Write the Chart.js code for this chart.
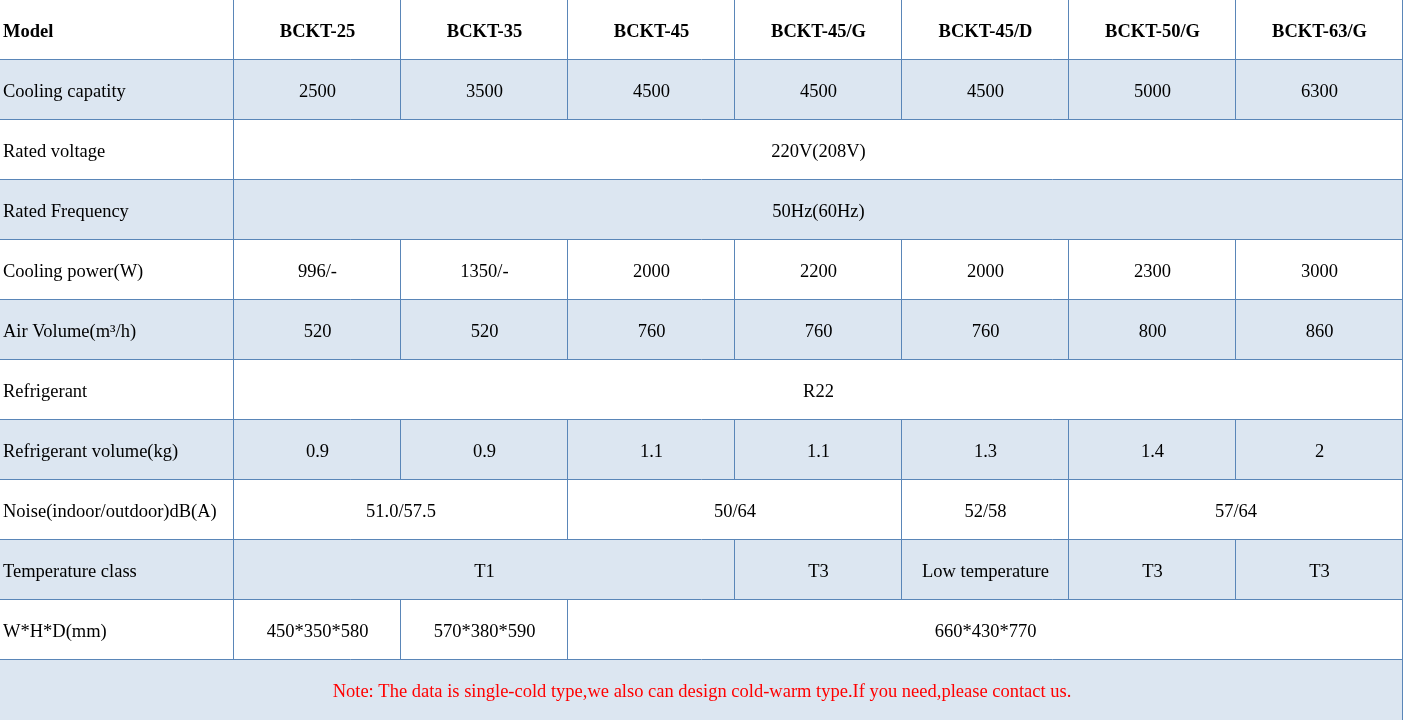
<!DOCTYPE html>
<html>
<head>
<meta charset="utf-8">
<script src="https://cdn.jsdelivr.net/npm/chart.js@4/dist/chart.umd.min.js"></script>
<style>
  html, body { margin: 0; padding: 0; background: #fff; }
  canvas { display: block; }
</style>
</head>
<body>
<canvas id="specTable" width="1403" height="721"></canvas>
<script>
// column edges in table units (first column is wider)
var colEdges = [0, 1.4, 2.4, 3.4, 4.4, 5.4, 6.4, 7.4, 8.4];

var rowLabels = ["Model", "Cooling capatity", "Rated voltage", "Rated Frequency", "Cooling power(W)",
  "Air Volume(m³/h)", "Refrigerant", "Refrigerant volume(kg)", "Noise(indoor/outdoor)dB(A)",
  "Temperature class", "W*H*D(mm)"];

var models = ["BCKT-25", "BCKT-35", "BCKT-45", "BCKT-45/G", "BCKT-45/D", "BCKT-50/G", "BCKT-63/G"];
var coolingCapacity = ["2500", "3500", "4500", "4500", "4500", "5000", "6300"];
var ratedVoltage = [["220V(208V)", 7]];
var ratedFrequency = [["50Hz(60Hz)", 7]];
var coolingPower = ["996/-", "1350/-", "2000", "2200", "2000", "2300", "3000"];
var airVolume = ["520", "520", "760", "760", "760", "800", "860"];
var refrigerant = [["R22", 7]];
var refrigerantVolume = ["0.9", "0.9", "1.1", "1.1", "1.3", "1.4", "2"];
var noise = [["51.0/57.5", 2], ["50/64", 2], ["52/58", 1], ["57/64", 2]];
var temperatureClass = [["T1", 3], ["T3", 1], ["Low temperature", 1], ["T3", 1], ["T3", 1]];
var dimensions = [["450*350*580", 1], ["570*380*590", 1], ["660*430*770", 5]];
var note = "Note: The data is single-cold type,we also can design cold-warm type.If you need,please contact us.";

function single(list) { return list.map(function (v) { return [v, 1]; }); }

var rowCells = [single(models), single(coolingCapacity), ratedVoltage, ratedFrequency, single(coolingPower),
  single(airVolume), refrigerant, single(refrigerantVolume), noise, temperatureClass, dimensions];

var tablePlugin = {
  id: "tablePlugin",
  afterDraw: function (chart) {
    var ctx = chart.ctx, xs = chart.scales.x, ys = chart.scales.y;
    var px = function (v) { return Math.round(xs.getPixelForValue(v)); };
    var py = function (v) { return Math.round(ys.getPixelForValue(v)); };
    var line = "#5a86b8";
    ctx.save();
    ctx.textBaseline = "middle";
    var nRows = rowLabels.length + 1;
    for (var r = 0; r < nRows; r++) {
      var top = py(r), bot = py(r + 1);
      if (r % 2 === 1) { ctx.fillStyle = "#dce6f1"; ctx.fillRect(0, top, px(8.4), bot - top); }
      var mid = (top + bot) / 2 + 2;
      if (r === rowLabels.length) {
        ctx.fillStyle = "#ff0000";
        ctx.font = "18.5px 'Liberation Serif'";
        ctx.textAlign = "center";
        ctx.fillText(note, px(4.2), mid);
        continue;
      }
      var bold = r === 0;
      ctx.font = (bold ? "bold " : "") + "18.5px 'Liberation Serif'";
      ctx.fillStyle = "#000";
      ctx.textAlign = "left";
      ctx.fillText(rowLabels[r], 3, mid);
      ctx.textAlign = "center";
      var c = 1;
      rowCells[r].forEach(function (cell) {
        var x0 = px(colEdges[c]), x1 = px(colEdges[c + cell[1]]);
        ctx.fillText(cell[0], (x0 + x1) / 2, mid);
        ctx.strokeStyle = line; ctx.lineWidth = 1;
        ctx.beginPath(); ctx.moveTo(x0 - 0.5, top); ctx.lineTo(x0 - 0.5, bot); ctx.stroke();
        c += cell[1];
      });
      ctx.strokeStyle = line;
      ctx.beginPath(); ctx.moveTo(0, bot - 0.5); ctx.lineTo(px(8.4), bot - 0.5); ctx.stroke();
    }
    ctx.beginPath(); ctx.moveTo(px(8.4) - 0.5, 0); ctx.lineTo(px(8.4) - 0.5, py(nRows)); ctx.stroke();
    ctx.restore();
  }
};

new Chart(document.getElementById("specTable"), {
  type: "scatter",
  data: { datasets: [{ data: [] }] },
  options: {
    responsive: false,
    animation: false,
    layout: { padding: 0 },
    plugins: { legend: { display: false }, tooltip: { enabled: false } },
    scales: {
      x: { type: "linear", min: 0, max: 8.4, display: false },
      y: { type: "linear", min: 0, max: 12.0166, reverse: true, display: false }
    }
  },
  plugins: [tablePlugin]
});
</script>
</body>
</html>
